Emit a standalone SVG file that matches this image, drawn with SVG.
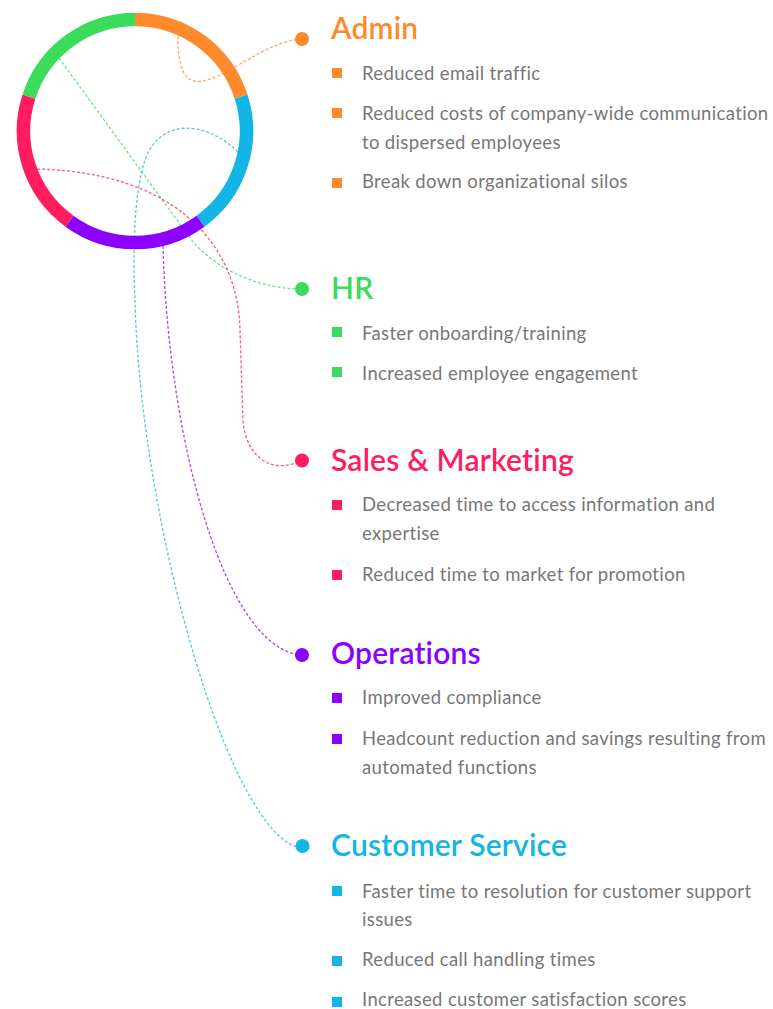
<svg xmlns="http://www.w3.org/2000/svg" width="773" height="1009" viewBox="0 0 773 1009">
<style>
.ring{fill:none;stroke-width:13.5;stroke-linecap:butt}
.con{fill:none;stroke-width:1.3;stroke-dasharray:3 2;opacity:0.75}
.title{font-family:Lato,"Liberation Sans",sans-serif;font-size:30px;font-weight:600;letter-spacing:0.2px}
.item{font-family:Lato,"Liberation Sans",sans-serif;font-size:18.5px;letter-spacing:0.35px;fill:#777777}
.o{fill:#FF8A2B}.g{fill:#3BDB5B}.r{fill:#FF1C5F}.p{fill:#8B00FF}.b{fill:#12B5E5}
.so{stroke:#FF8A2B}.sg{stroke:#3BDB5B}.sr{stroke:#FF1C5F}.sp{stroke:#8B00FF}.sb{stroke:#12B5E5}
</style>
<rect width="773" height="1009" fill="#ffffff"/>
<g id="connectors">
<path class="con so" d="M178,36 C177,135 245,42 302,39"/>
<path class="con sg" d="M59,58 L190,238 C215,270 260,289 302,289"/>
<path class="con sr" d="M37,169 C170,172 238,240 240,330 L243,420 C246,460 275,475 302,460"/>
<path class="con sp" d="M163,246 C168,440 225,650 302,655"/>
<path class="con sb" d="M238,152 C205,120 160,118 145,160 C133,195 133,260 135,300 C140,520 230,840 302,848"/>
</g>
<g id="wheel">
<path class="ring so" d="M135,19.5 A111.5,111.5 0 0 1 241.04,96.54"/>
<path class="ring sb" d="M241.04,96.54 A111.5,111.5 0 0 1 200.54,221.21"/>
<path class="ring sp" d="M200.54,221.21 A111.5,111.5 0 0 1 69.46,221.21"/>
<path class="ring sr" d="M69.46,221.21 A111.5,111.5 0 0 1 28.96,96.54"/>
<path class="ring sg" d="M28.96,96.54 A111.5,111.5 0 0 1 135,19.5"/>
</g>
<g id="admin">
<circle class="o" cx="302" cy="39" r="7"/>
<text class="title o" x="331" y="39">Admin</text>
<rect class="o" x="332" y="68" width="10" height="10"/>
<text class="item" x="362" y="80">Reduced email traffic</text>
<rect class="o" x="332" y="108" width="10" height="10"/>
<text class="item" x="362" y="120">Reduced costs of company-wide communication</text>
<text class="item" x="362" y="148.5">to dispersed employees</text>
<rect class="o" x="332" y="178" width="10" height="10"/>
<text class="item" x="362" y="188">Break down organizational silos</text>
</g>
<g id="hr">
<circle class="g" cx="302" cy="289" r="7"/>
<text class="title g" x="331" y="298.5">HR</text>
<rect class="g" x="332" y="327" width="10" height="10"/>
<text class="item" x="362" y="340">Faster onboarding/training</text>
<rect class="g" x="332" y="367" width="10" height="10"/>
<text class="item" x="362" y="380">Increased employee engagement</text>
</g>
<g id="sales">
<circle class="r" cx="302" cy="460.5" r="7"/>
<text class="title r" x="331" y="470.5">Sales &amp; Marketing</text>
<rect class="r" x="332" y="500" width="10" height="10"/>
<text class="item" x="362" y="511">Decreased time to access information and</text>
<text class="item" x="362" y="540">expertise</text>
<rect class="r" x="332" y="570" width="10" height="10"/>
<text class="item" x="362" y="581">Reduced time to market for promotion</text>
</g>
<g id="operations">
<circle class="p" cx="302" cy="655" r="7"/>
<text class="title p" x="331" y="663.5">Operations</text>
<rect class="p" x="332" y="693" width="10" height="10"/>
<text class="item" x="362" y="704">Improved compliance</text>
<rect class="p" x="332" y="734" width="10" height="10"/>
<text class="item" x="362" y="744.5">Headcount reduction and savings resulting from</text>
<text class="item" x="362" y="773.5">automated functions</text>
</g>
<g id="customer-service">
<circle class="b" cx="302.5" cy="846" r="7"/>
<text class="title b" x="331" y="855.5">Customer Service</text>
<rect class="b" x="332" y="886" width="10" height="10"/>
<text class="item" x="362" y="897.5">Faster time to resolution for customer support</text>
<text class="item" x="362" y="926">issues</text>
<rect class="b" x="332" y="956" width="10" height="10"/>
<text class="item" x="362" y="966">Reduced call handling times</text>
<rect class="b" x="332" y="997" width="10" height="10"/>
<text class="item" x="362" y="1006">Increased customer satisfaction scores</text>
</g>
</svg>
